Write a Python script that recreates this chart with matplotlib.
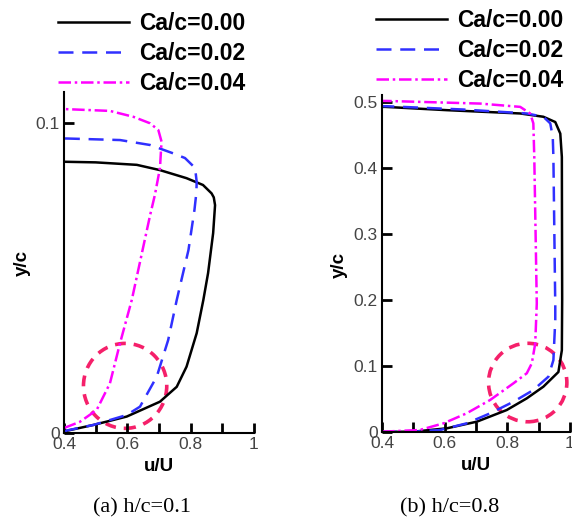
import matplotlib.pyplot as plt
from matplotlib.patches import Ellipse

plt.rcParams['font.family'] = 'Liberation Sans'

# (a) h/c=0.1  -- velocity profiles u/U vs y/c
a_u0 = [0.400, 0.408, 0.493, 0.598, 0.703, 0.756, 0.787, 0.819, 0.840, 0.855, 0.871, 0.877, 0.873, 0.866, 0.839, 0.787, 0.703, 0.630, 0.500, 0.400]
a_y0 = [0.000, 0.0007, 0.0026, 0.0053, 0.0101, 0.0149, 0.0214, 0.0322, 0.0429, 0.0516, 0.0645, 0.0735, 0.0760, 0.0773, 0.0800, 0.0822, 0.0848, 0.0865, 0.0873, 0.0875]
a_u2 = [0.400, 0.408, 0.493, 0.598, 0.640, 0.693, 0.729, 0.756, 0.793, 0.812, 0.818, 0.819, 0.814, 0.782, 0.745, 0.672, 0.577, 0.408, 0.400]
a_y2 = [0.000, 0.0008, 0.0026, 0.0058, 0.0085, 0.0182, 0.0300, 0.0429, 0.0590, 0.0720, 0.0775, 0.0810, 0.0855, 0.0887, 0.0902, 0.0929, 0.0945, 0.0950, 0.0950]
a_u4 = [0.400, 0.450, 0.503, 0.545, 0.577, 0.614, 0.672, 0.687, 0.703, 0.708, 0.698, 0.672, 0.619, 0.545, 0.400]
a_y4 = [0.0016, 0.0036, 0.0074, 0.0160, 0.0290, 0.0429, 0.0703, 0.0768, 0.0854, 0.0940, 0.0977, 0.0999, 0.1020, 0.1039, 0.1045]

# (b) h/c=0.8
b_u0 = [0.400, 0.500, 0.607, 0.703, 0.798, 0.862, 0.915, 0.963, 0.969, 0.974, 0.975, 0.974, 0.969, 0.953, 0.915, 0.841, 0.607, 0.410, 0.400]
b_y0 = [0.000, 0.0005, 0.0056, 0.0157, 0.0333, 0.0510, 0.0687, 0.0910, 0.1090, 0.1240, 0.2000, 0.4170, 0.4525, 0.4700, 0.4780, 0.4830, 0.4880, 0.4930, 0.4930]
b_u2 = [0.400, 0.500, 0.585, 0.670, 0.745, 0.820, 0.883, 0.931, 0.947, 0.953, 0.953, 0.947, 0.945, 0.937, 0.915, 0.862, 0.659, 0.415, 0.400]
b_y2 = [0.000, 0.0005, 0.0030, 0.0131, 0.0283, 0.0460, 0.0636, 0.0838, 0.1090, 0.1700, 0.1900, 0.4170, 0.4470, 0.4680, 0.4780, 0.4830, 0.4890, 0.4940, 0.4940]
b_u4 = [0.400, 0.520, 0.596, 0.670, 0.745, 0.820, 0.862, 0.878, 0.889, 0.894, 0.886, 0.883, 0.873, 0.841, 0.713, 0.415, 0.400]
b_y4 = [0.0005, 0.0030, 0.0131, 0.0283, 0.0485, 0.0740, 0.0890, 0.1040, 0.1340, 0.1950, 0.4170, 0.4680, 0.4830, 0.4930, 0.4980, 0.5020, 0.5020]

labels = ['Ca/c=0.00', 'Ca/c=0.02', 'Ca/c=0.04']
captions = ['(a) h/c=0.1', '(b) h/c=0.8']

# highlighted regions (centre u, centre y, width, height)
circ_a = (0.593, 0.0152, 0.263, 0.0274)
circ_b = (0.865, 0.075, 0.250, 0.119)

blue = '#3030FF'
magenta = '#FF00FF'
pink = '#F5206A'

fig = plt.figure(figsize=(5.72, 5.23), dpi=100)
ax1 = fig.add_axes([64/572, 90/523, 190/572, 341/523])
ax2 = fig.add_axes([382/572, 91/523, 188/572, 337/523])


def draw(ax, u0, y0, u2, y2, u4, y4, circ, ymax, yticks, ylabels):
    h1, = ax.plot(u0, y0, color='black', lw=1.8, label=labels[0])
    h2, = ax.plot(u2, y2, color=blue, lw=1.8, dashes=(6, 3.5), label=labels[1])
    h3, = ax.plot(u4, y4, color=magenta, lw=1.8, dashes=(5, 1.5, 1, 1.5), label=labels[2])
    ax.add_patch(Ellipse((circ[0], circ[1]), circ[2], circ[3], fill=False,
                         edgecolor=pink, lw=2.6, linestyle=(0, (3, 2.2)), clip_on=False))
    ax.set_xlim(0.4, 1.0)
    ax.set_ylim(0, ymax)
    for s in ['top', 'right']:
        ax.spines[s].set_visible(False)
    for s in ['left', 'bottom']:
        ax.spines[s].set_linewidth(1.5)
    ax.set_xticks([0.4, 0.6, 0.8, 1.0])
    ax.set_xticklabels(['0.4', '0.6', '0.8', '1'])
    ax.set_xticks([0.5, 0.7, 0.9], minor=True)
    ax.set_yticks(yticks)
    ax.set_yticklabels(ylabels)
    ax.tick_params(which='both', direction='in', length=7, width=2, labelsize=12.5,
                   labelcolor='#444444', pad=3)
    ax.set_xlabel('u/U', fontsize=13.5, fontweight='bold', labelpad=4)
    ax.set_ylabel('y/c', fontsize=13.5, fontweight='bold')
    ax.patch.set_alpha(0)
    return [h1, h2, h3]


hs = draw(ax1, a_u0, a_y0, a_u2, a_y2, a_u4, a_y4, circ_a, 0.11, [0, 0.1], ['0', '0.1'])
ax1.yaxis.set_label_coords(-0.175, 0.50)
draw(ax2, b_u0, b_y0, b_u2, b_y2, b_u4, b_y4, circ_b, 0.511,
     [0, 0.1, 0.2, 0.3, 0.4, 0.5], ['0', '0.1', '0.2', '0.3', '0.4', '0.5'])
ax2.yaxis.set_label_coords(-0.18, 0.495)

legprops = dict(loc='upper left', frameon=False, borderpad=0, borderaxespad=0,
                handlelength=3.1, handletextpad=0.45, labelspacing=0.3,
                prop={'family': 'Liberation Sans', 'weight': 'bold', 'size': 16.5})
fig.legend(hs, labels, bbox_to_anchor=(58/572, 1 - 12/523), **legprops)
fig.legend(hs, labels, bbox_to_anchor=(376/572, 1 - 9/523), **legprops)

fig.text(142/572, 1 - 508/523, captions[0], ha='center', va='center',
         family='Liberation Serif', fontsize=16)
fig.text(450/572, 1 - 508/523, captions[1], ha='center', va='center',
         family='Liberation Serif', fontsize=16)

fig.savefig('out.png', dpi=100)
